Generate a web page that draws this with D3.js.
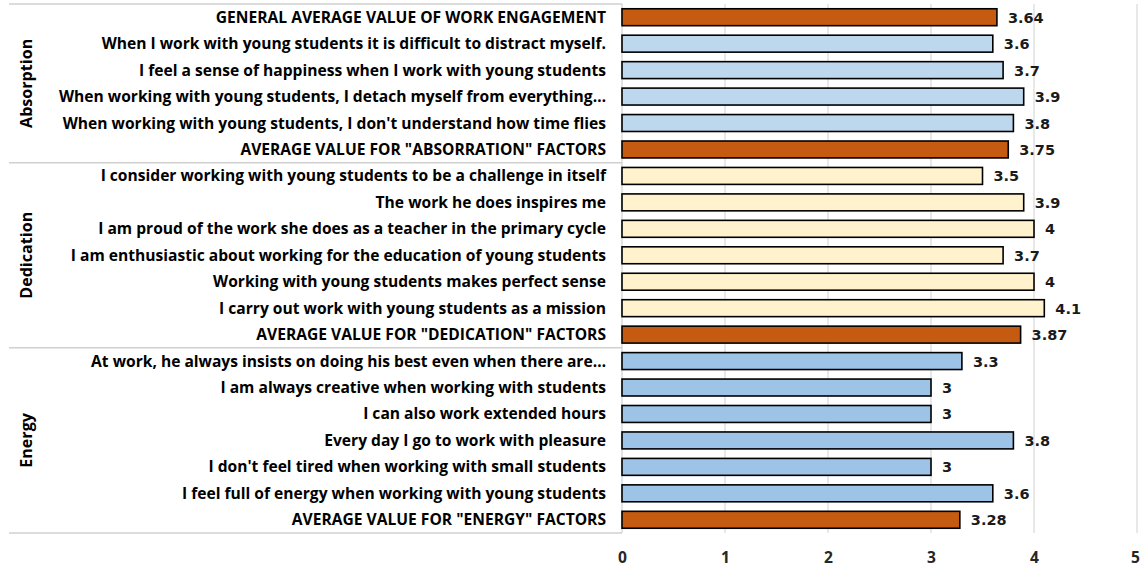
<!DOCTYPE html>
<html>
<head>
<meta charset="utf-8">
<script src="https://cdn.jsdelivr.net/npm/d3@7"></script>
<style>
  html, body { margin: 0; padding: 0; background: #ffffff; }
  svg { display: block; }
</style>
</head>
<body>
<svg id="chart" width="1140" height="569"></svg>
<script>
// Item statements, top to bottom
const categories = [
  "GENERAL AVERAGE VALUE OF WORK ENGAGEMENT",
  "When I work with young students it is difficult to distract myself.",
  "I feel a sense of happiness when I work with young students",
  "When working with young students, I detach myself from everything…",
  "When working with young students, I don't understand how time flies",
  "AVERAGE VALUE FOR \"ABSORRATION\" FACTORS",
  "I consider working with young students to be a challenge in itself",
  "The work he does inspires me",
  "I am proud of the work she does as a teacher in the primary cycle",
  "I am enthusiastic about working for the education of young students",
  "Working with young students makes perfect sense",
  "I carry out work with young students as a mission",
  "AVERAGE VALUE FOR \"DEDICATION\" FACTORS",
  "At work, he always insists on doing his best even when there are…",
  "I am always creative when working with students",
  "I can also work extended hours",
  "Every day I go to work with pleasure",
  "I don't feel tired when working with small students",
  "I feel full of energy when working with young students",
  "AVERAGE VALUE FOR \"ENERGY\" FACTORS"
];

// Mean scores
const values = [3.64, 3.6, 3.7, 3.9, 3.8, 3.75, 3.5, 3.9, 4, 3.7, 4, 4.1, 3.87,
                3.3, 3, 3, 3.8, 3, 3.6, 3.28];

// Kind of each row: "avg" rows are the summary bars
const kinds = ["avg", "abs", "abs", "abs", "abs", "avg",
               "ded", "ded", "ded", "ded", "ded", "ded", "avg",
               "ene", "ene", "ene", "ene", "ene", "ene", "avg"];

// Factor groups (first and last row index)
const groupNames = ["Absorption", "Dedication", "Energy"];
const groupStart = [0, 6, 13];
const groupEnd = [5, 12, 19];

const xTicks = [0, 1, 2, 3, 4, 5];

const fills = { avg: "#C55A11", abs: "#BDD7EE", ded: "#FFF2CC", ene: "#9DC3E6" };

const svg = d3.select("#chart");
const plotLeft = 622, plotRight = 1137, plotTop = 4, plotBottom = 533;
const panelLeft = 9;

const x = d3.scaleLinear().domain([0, 5]).range([plotLeft, plotRight]);
const y = d3.scaleBand().domain(d3.range(categories.length))
  .range([plotTop, plotBottom]).paddingInner(0.36).paddingOuter(0.18);
const row = d3.scaleBand().domain(d3.range(categories.length)).range([plotTop, plotBottom]);

const labelFont = "'Open Sans', 'Noto Sans', sans-serif";
const labelSize = 15.6;

// Vertical gridlines
svg.append("g").selectAll("line").data(xTicks.slice(1)).join("line")
  .attr("x1", d => x(d)).attr("x2", d => x(d))
  .attr("y1", plotTop).attr("y2", plotBottom)
  .attr("stroke", "#D9D9D9").attr("stroke-width", 1.2);

// Category panel: separators between factor groups and axis line
const seps = [plotTop].concat(groupEnd.map(e => row(e) + row.bandwidth()));
svg.append("g").selectAll("line").data(seps).join("line")
  .attr("x1", panelLeft).attr("x2", plotLeft)
  .attr("y1", d => d).attr("y2", d => d)
  .attr("stroke", "#D0D0D0").attr("stroke-width", 1.5);
svg.append("line")
  .attr("x1", plotLeft).attr("x2", plotLeft)
  .attr("y1", plotTop).attr("y2", plotBottom)
  .attr("stroke", "#D0D0D0").attr("stroke-width", 1.2);

// Bars
svg.append("g").selectAll("rect").data(values).join("rect")
  .attr("x", x(0))
  .attr("y", (d, i) => y(i))
  .attr("width", d => x(d) - x(0))
  .attr("height", y.bandwidth())
  .attr("fill", (d, i) => fills[kinds[i]])
  .attr("stroke", "#000").attr("stroke-width", 1.6);

// Value labels
svg.append("g").selectAll("text").data(values).join("text")
  .attr("x", d => x(d) + 11)
  .attr("y", (d, i) => row(i) + row.bandwidth() / 2 + 5.5)
  .attr("font-family", "'DejaVu Sans', Verdana, sans-serif")
  .attr("font-weight", "bold").attr("font-size", 14.5)
  .attr("fill", "#1a1a1a")
  .text(d => String(d));

// Category labels
svg.append("g").selectAll("text").data(categories).join("text")
  .attr("x", 606)
  .attr("y", (d, i) => row(i) + row.bandwidth() / 2 + 5.5)
  .attr("text-anchor", "end")
  .attr("font-family", labelFont)
  .attr("font-weight", "bold").attr("font-size", labelSize)
  .attr("fill", "#000")
  .text(d => d);

// Factor group labels
svg.append("g").selectAll("text").data(groupNames).join("text")
  .attr("transform", (d, i) => {
    const cy = (row(groupStart[i]) + row(groupEnd[i]) + row.bandwidth()) / 2;
    return `translate(32,${cy}) rotate(-90)`;
  })
  .attr("text-anchor", "middle")
  .attr("font-family", labelFont)
  .attr("font-weight", "bold").attr("font-size", labelSize + 0.5)
  .attr("fill", "#000")
  .text(d => d);

// X axis tick labels
const xAxis = d3.axisBottom(x).tickValues(xTicks).tickFormat(d3.format("d"))
  .tickSize(0).tickPadding(0);
const gx = svg.append("g").attr("transform", `translate(0,${plotBottom})`).call(xAxis);
gx.select(".domain").remove();
gx.selectAll("text")
  .attr("dy", 0).attr("y", 30)
  .attr("dx", d => d === 5 ? -2 : 0)
  .attr("font-family", labelFont)
  .attr("font-weight", "bold").attr("font-size", labelSize)
  .attr("fill", "#262626");
</script>
</body>
</html>
